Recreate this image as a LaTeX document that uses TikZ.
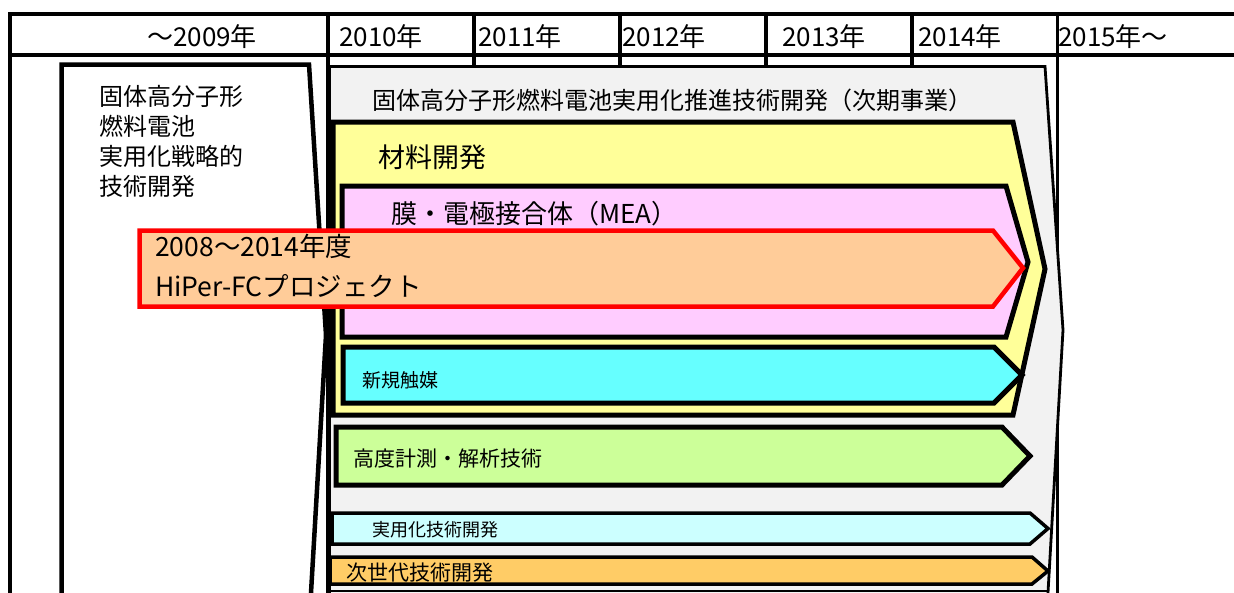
\documentclass[tikz,border=0pt]{standalone}
\usepackage{fontspec}
\setmainfont{Noto Sans CJK JP}
\definecolor{greyfill}{HTML}{F2F2F2}
\definecolor{yel}{HTML}{FFFF99}
\definecolor{pnk}{HTML}{FFCCFF}
\definecolor{peach}{HTML}{FFCC99}
\definecolor{cyn}{HTML}{66FFFF}
\definecolor{grn}{HTML}{CCFF99}
\definecolor{lcyn}{HTML}{CCFFFF}
\definecolor{org}{HTML}{FFCC66}
\begin{document}
\begin{tikzpicture}[x=1pt,y=-1pt,line join=miter,
  tbl/.style={line width=4pt,line cap=rect},
  bar/.style={draw=black,line width=5pt},
  thinbar/.style={draw=black,line width=3.5pt},
  lbl/.style={anchor=west,inner sep=0pt},
  yr/.style={anchor=west,inner sep=0pt,font=\fontsize{26}{30}\selectfont}]
\useasboundingbox (0,0) rectangle (1234,592);
\fill[white] (0,0) rectangle (1234,592);
% table
\draw[tbl] (10,14) -- (1240,14);
\draw[tbl] (10,54.5) -- (1240,54.5);
\draw[tbl] (10,14) -- (10,600);
\draw[line width=3.5pt] (328,14) -- (328,600);
\foreach \x in {474,620,766,912} \draw[line width=3.5pt] (\x,14) -- (\x,68);
\draw[line width=2.7pt] (1057.5,14) -- (1057.5,600);
% header texts
\node[yr,anchor=center] (y2009) at (202,37) {～2009年};
\node[yr] (y2010) at (339,37) {2010年};
\node[yr] (y2011) at (478,37) {2011年};
\node[yr] (y2012) at (622,37) {2012年};
\node[yr] (y2013) at (782,37) {2013年};
\node[yr] (y2014) at (918,37) {2014年};
\node[yr] (y2015) at (1058,37) {2015年～};
% left box
\draw[line width=4.5pt,fill=white] (61.5,64.5) -- (309,64.5) -- (326,335) -- (310,610) -- (61.5,610) -- cycle;
\node[anchor=north west,inner sep=0pt,align=left,font=\fontsize{24}{30}\selectfont] (strat) at (99,85)
  {固体高分子形\\燃料電池\\実用化戦略的\\技術開発};
% grey box
\draw[line width=2.8pt,fill=greyfill] (329.5,66.5) -- (1045,66.5) -- (1063,330) -- (1047,610) -- (329.5,610) -- cycle;
\node[lbl,font=\fontsize{24}{30}\selectfont] (next) at (372,100) {固体高分子形燃料電池実用化推進技術開発（次期事業）};
% yellow
\draw[bar,fill=yel] (333,122) -- (1013,122) -- (1045,269) -- (1013,415) -- (333,415) -- cycle;
\node[lbl,font=\fontsize{27}{30}\selectfont] (mat) at (378,157) {材料開発};
% pink
\draw[bar,fill=pnk] (342,186) -- (1006,186) -- (1028,262) -- (1006,337) -- (342,337) -- cycle;
\node[lbl,font=\fontsize{26}{30}\selectfont] (mea) at (391,214) {膜・電極接合体（MEA）};
% cyan
\draw[bar,fill=cyn] (343,347) -- (994,347) -- (1022,375) -- (994,403) -- (343,403) -- cycle;
\node[lbl,font=\fontsize{19}{24}\selectfont] (cat) at (362,380) {新規触媒};
% green
\draw[bar,fill=grn] (336,427) -- (1002,427) -- (1030,456) -- (1002,485) -- (336,485) -- cycle;
\node[lbl,font=\fontsize{21}{24}\selectfont] (anal) at (353,459) {高度計測・解析技術};
% light cyan
\draw[thinbar,fill=lcyn] (332,513) -- (1030,513) -- (1048,528.5) -- (1030,544) -- (332,544) -- cycle;
\node[lbl,font=\fontsize{18}{24}\selectfont] (prac) at (372,530) {実用化技術開発};
% orange
\draw[thinbar,fill=org] (330,557) -- (1032,557) -- (1048,571) -- (1032,584) -- (330,584) -- cycle;
\node[lbl,font=\fontsize{21}{24}\selectfont] (nextgen) at (346,573) {次世代技術開発};
\draw[line width=2pt] (330,590.5) -- (1047,590.5);
% HiPer-FC
\draw[draw=red,line width=4.5pt,fill=peach] (139.5,230.5) -- (993,230.5) -- (1023,268) -- (993,306.5) -- (139.5,306.5) -- cycle;
\node[anchor=north west,inner sep=0pt,align=left,font=\fontsize{26.5}{40}\selectfont] (hiper) at (155,234)
  {2008～2014年度\\HiPer-FCプロジェクト};
\end{tikzpicture}
\end{document}
